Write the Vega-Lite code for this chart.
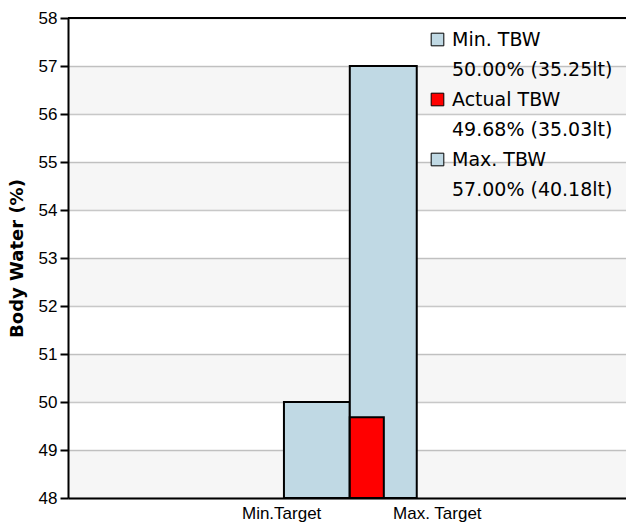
{
  "$schema": "https://vega.github.io/schema/vega-lite/v6.json",
  "width": 558,
  "height": 480,
  "autosize": {"type": "none"},
  "padding": {"left": 68, "top": 18, "right": 0, "bottom": 27},
  "background": "white",
  "datasets": {
    "bars": [
      {"series": "Min. TBW", "target": "Min.Target", "pct": 50.00, "litres": 35.25, "start": 3.87, "end": 5.05},
      {"series": "Max. TBW", "target": "Max. Target", "pct": 57.00, "litres": 40.18, "start": 5.05, "end": 6.25},
      {"series": "Actual TBW", "target": "Actual", "pct": 49.68, "litres": 35.03, "start": 5.05, "end": 5.66}
    ],
    "bands": [
      {"lo": 48, "hi": 49}, {"lo": 50, "hi": 51}, {"lo": 52, "hi": 53}, {"lo": 54, "hi": 55}, {"lo": 56, "hi": 57}
    ],
    "top": [{"v": 58}]
  },
  "config": {
    "view": {"stroke": null},
    "axisY": {
      "domainColor": "#000000", "domainWidth": 2,
      "tickColor": "#000000", "tickWidth": 2, "tickSize": 8,
      "labelFont": "Liberation Sans", "labelFontSize": 17, "labelColor": "#000000", "labelPadding": 3,
      "grid": true, "gridColor": "#c8c8c8", "gridWidth": 1.5,
      "titleFont": "DejaVu Sans", "titleFontWeight": "bold", "titleFontSize": 18, "titleColor": "#000000", "titlePadding": 12,
      "values": [48, 49, 50, 51, 52, 53, 54, 55, 56, 57, 58]
    },
    "axisX": {
      "domainColor": "#000000", "domainWidth": 2, "ticks": false, "grid": false,
      "labelFont": "Liberation Sans", "labelFontSize": 17, "labelColor": "#000000", "labelPadding": 7
    }
  },
  "layer": [
    {
      "data": {"name": "bands"},
      "mark": {"type": "rect", "fill": "#000000", "opacity": 0.035},
      "encoding": {
        "y": {"field": "lo", "type": "quantitative", "scale": {"domain": [48, 58], "nice": false, "zero": false}, "title": "Body Water (%)"},
        "y2": {"field": "hi"}
      }
    },
    {
      "data": {"name": "bars"},
      "mark": {"type": "rect", "stroke": "#000000", "strokeWidth": 2},
      "encoding": {
        "x": {"field": "start", "type": "quantitative", "scale": {"domain": [0, 10], "nice": false, "zero": false},
              "axis": {"title": null, "values": [3.82, 6.61], "labelExpr": "datum.value < 5 ? 'Min.Target' : 'Max. Target'"}},
        "x2": {"field": "end"},
        "y": {"field": "pct", "type": "quantitative", "scale": {"domain": [48, 58], "nice": false, "zero": false}, "title": "Body Water (%)"},
        "y2": {"datum": 48},
        "color": {
          "field": "series", "type": "nominal",
          "scale": {"domain": ["Min. TBW", "Actual TBW", "Max. TBW"], "range": ["#c0d9e4", "#ff0000", "#c0d9e4"]},
          "legend": {
            "title": null, "orient": "none", "legendX": 360, "legendY": 12, "padding": 0,
            "symbolType": "square", "symbolSize": 160, "symbolStrokeColor": "#000000", "symbolStrokeWidth": 1, "symbolOpacity": 1,
            "labelFont": "DejaVu Sans", "labelFontSize": 19, "labelColor": "#000000", "labelLimit": 400, "labelOffset": 5,
            "rowPadding": 10,
            "labelExpr": "datum.label == 'Min. TBW' ? ['Min. TBW', '50.00% (35.25lt)'] : datum.label == 'Actual TBW' ? ['Actual TBW', '49.68% (35.03lt)'] : ['Max. TBW', '57.00% (40.18lt)']",
            "encode": {"labels": {"update": {"lineHeight": {"value": 30}}}}
          }
        }
      }
    },
    {
      "data": {"name": "top"},
      "mark": {"type": "rule", "color": "#000000", "strokeWidth": 2},
      "encoding": {
        "y": {"field": "v", "type": "quantitative", "scale": {"domain": [48, 58], "nice": false, "zero": false}, "title": "Body Water (%)"}
      }
    }
  ]
}
